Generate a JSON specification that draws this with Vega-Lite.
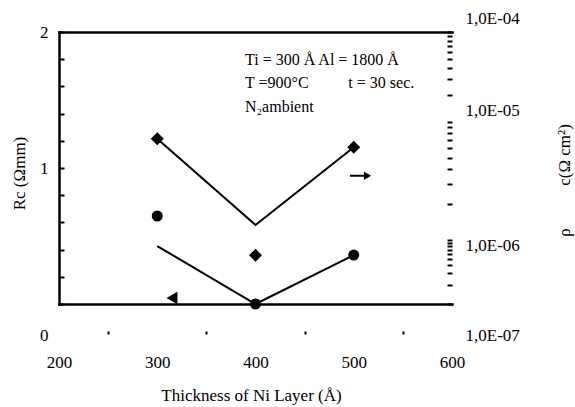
{
  "$schema": "https://vega.github.io/schema/vega-lite/v6.json",
  "width": 393,
  "height": 272,
  "autosize": "none",
  "padding": {"left": 59, "top": 32, "right": 123, "bottom": 103},
  "background": "white",
  "config": {
    "view": {"stroke": null},
    "font": "Liberation Serif",
    "axis": {
      "labelFont": "Liberation Serif",
      "titleFont": "Liberation Serif",
      "labelFontSize": 17,
      "titleFontSize": 17,
      "titleFontWeight": "normal",
      "labelColor": "black",
      "titleColor": "black",
      "domainColor": "black",
      "tickColor": "black",
      "domainCap": "square",
      "grid": false,
      "labelOverlap": false,
      "labelBound": false,
      "labelFlush": false
    }
  },
  "layer": [
    {
      "encoding": {
        "x": {
          "field": "t",
          "type": "quantitative",
          "scale": {"domain": [200, 600], "nice": false, "zero": false},
          "axis": {
            "orient": "bottom",
            "values": [200, 300, 400, 500, 600],
            "title": "Thickness of Ni Layer (Å)",
            "domainWidth": 2.5,
            "tickSize": 30,
            "tickWidth": 2,
            "tickDash": [0, 27, 3, 200],
            "tickOffset": 49,
            "tickOpacity": {"condition": {"test": "datum.value >= 600", "value": 0}, "value": 1},
            "labelOffset": -49,
            "labelPadding": 20,
            "titleX": 192,
            "titleY": 91,
            "titleBaseline": "middle"
          }
        },
        "y": {
          "field": "rc",
          "type": "quantitative",
          "scale": {"domain": [0, 2], "nice": false},
          "axis": {
            "orient": "left",
            "values": [0, 0.2, 0.4, 0.6, 0.8, 1, 1.2, 1.4, 1.6, 1.8, 2],
            "labelExpr": "datum.value == 0 ? '0' : datum.value == 1 ? '1' : datum.value == 2 ? '2' : ''",
            "domainWidth": 2.5,
            "tickSize": -5,
            "tickWidth": 2,
            "labelPadding": 16,
            "labelBaseline": "middle",
            "labelOffset": {"condition": {"test": "datum.value == 0", "value": 31}, "value": 0},
            "title": "Rc (Ωmm)",
            "titleX": -40,
            "titleY": 141,
            "titleAngle": 270,
            "titleAlign": "center",
            "titleBaseline": "middle"
          }
        }
      },
      "layer": [
        {
          "data": {"values": [
            {"t": 300, "rc": 0.426},
            {"t": 400, "rc": 0},
            {"t": 500, "rc": 0.36}
          ]},
          "mark": {"type": "line", "color": "black", "strokeWidth": 2}
        },
        {
          "data": {"values": [
            {"t": 300, "rc": 0.647},
            {"t": 400, "rc": 0},
            {"t": 500, "rc": 0.36}
          ]},
          "mark": {"type": "point", "shape": "circle", "filled": true, "color": "black", "opacity": 1, "size": 121}
        },
        {
          "data": {"values": [
            {"t": 389.3, "rc": 1.794, "label": "Ti = 300 Å Al = 1800 Å"},
            {"t": 389.3, "rc": 1.623, "label": "T =900°C"},
            {"t": 494.5, "rc": 1.623, "label": "t = 30 sec."},
            {"t": 389.3, "rc": 1.446, "label": "N₂ambient"}
          ]},
          "mark": {"type": "text", "align": "left", "baseline": "middle", "font": "Liberation Serif", "fontSize": 16, "color": "black"},
          "encoding": {"text": {"field": "label"}}
        },
        {
          "data": {"values": [{"t": 496.2, "t2": 510.5, "rc": 0.943}]},
          "mark": {"type": "rule", "color": "black", "strokeWidth": 2},
          "encoding": {"x2": {"field": "t2"}}
        },
        {
          "data": {"values": [{"t": 514, "rc": 0.943}]},
          "mark": {"type": "point", "shape": "triangle-right", "filled": true, "color": "black", "opacity": 1, "size": 70}
        },
        {
          "data": {"values": [{"t": 315, "rc": 0.044}]},
          "mark": {"type": "point", "shape": "triangle-left", "filled": true, "color": "black", "opacity": 1, "size": 160}
        }
      ]
    },
    {
      "encoding": {
        "x": {
          "field": "t",
          "type": "quantitative",
          "scale": {"domain": [200, 600], "nice": false, "zero": false},
          "axis": {"orient": "top", "domainWidth": 2.5, "ticks": false, "labels": false, "title": null}
        },
        "y": {
          "field": "rho",
          "type": "quantitative",
          "scale": {"type": "log", "domain": [1e-7, 1e-6, 1e-5, 1e-4], "range": [272, 208, 90, 0], "nice": false},
          "axis": {
            "orient": "right",
            "values": [1e-7, 2e-7, 3e-7, 4e-7, 5e-7, 6e-7, 7e-7, 8e-7, 9e-7, 1e-6, 2e-6, 3e-6, 4e-6, 5e-6, 6e-6, 7e-6, 8e-6, 9e-6, 1e-5, 2e-5, 3e-5, 4e-5, 5e-5, 6e-5, 7e-5, 8e-5, 9e-5, 1e-4],
            "labelExpr": "abs(log(datum.value)/LN10 - round(log(datum.value)/LN10)) < 0.001 ? '1,0E-0' + (-round(log(datum.value)/LN10)) : ''",
            "domain": false,
            "tickSize": -5,
            "tickWidth": 2,
            "labelPadding": 18,
            "labelBaseline": "middle",
            "labelOffset": {"condition": [
              {"test": "datum.value < 1.5e-7", "value": 31},
              {"test": "datum.value < 1.5e-6", "value": 5},
              {"test": "datum.value < 1.5e-5", "value": -12}
            ], "value": -14},
            "title": "ρ\u00a0\u00a0\u00a0\u00a0\u00a0\u00a0\u00a0\u00a0\u00a0\u00a0c(Ω cm²)",
            "titleX": 112,
            "titleY": 148,
            "titleAngle": 270,
            "titleAlign": "center",
            "titleBaseline": "middle"
          }
        }
      },
      "layer": [
        {
          "data": {"values": [
            {"t": 300, "rho": 7.2e-6},
            {"t": 400, "rho": 1.34e-6},
            {"t": 500, "rho": 6.1e-6}
          ]},
          "mark": {"type": "line", "color": "black", "strokeWidth": 2}
        },
        {
          "data": {"values": [
            {"t": 300, "rho": 7.2e-6},
            {"t": 400, "rho": 5.8e-7},
            {"t": 500, "rho": 6.1e-6}
          ]},
          "mark": {"type": "point", "shape": "diamond", "filled": true, "color": "black", "opacity": 1, "size": 169}
        }
      ]
    }
  ],
  "resolve": {"scale": {"y": "independent"}, "axis": {"x": "independent", "y": "independent"}}
}
